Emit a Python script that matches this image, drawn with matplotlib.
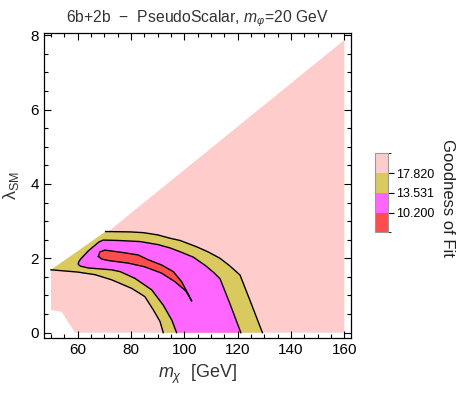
import matplotlib; matplotlib.use('Agg')
import matplotlib.pyplot as plt
from matplotlib.colors import ListedColormap, BoundaryNorm
from matplotlib.cm import ScalarMappable
from matplotlib.ticker import MultipleLocator

plt.rcParams['font.family'] = ['Liberation Sans', 'DejaVu Sans']
plt.rcParams['mathtext.fontset'] = 'custom'
plt.rcParams['mathtext.rm'] = 'Liberation Sans'
plt.rcParams['mathtext.it'] = 'Liberation Sans:italic'

# ---------- data ----------
# region where the fit was evaluated
pink_x = [50, 50, 54, 59, 160, 160, 71.5]
pink_y = [1.69, 0.61, 0.56, 0.0, 0.0, 7.87, 2.72]

# 17.820 contour: upper branch and lower-left branch
yel_top_x = [70.5, 79.6, 84.6, 90.0, 94.6, 98.4, 104.6, 109.0, 113.4, 117.0, 120.9, 125.0, 129.3]
yel_top_y = [2.72, 2.71, 2.69, 2.63, 2.54, 2.48, 2.31, 2.17, 2.00, 1.80, 1.55, 0.80, 0.0]
yel_low_x = [92.1, 90.9, 88.4, 85.2, 80.3, 72.8, 66.5, 60.0, 50.0]
yel_low_y = [0.0, 0.30, 0.61, 0.97, 1.19, 1.42, 1.56, 1.63, 1.69]

# 13.531 contour (open at lambda = 0)
mag_x = [97.1, 95.3, 92.1, 87.8, 81.5, 76.0, 72.7, 64.0, 61.0, 60.2, 60.4, 61.0, 64.0,
         68.0, 69.6, 75.0, 83.4, 90.0, 94.6, 99.0, 103.4, 108.0, 111.0, 113.4, 117.0, 121.2]
mag_y = [0.0, 0.34, 0.74, 1.15, 1.46, 1.64, 1.69, 1.74, 1.79, 1.84, 1.90, 1.97, 2.20,
         2.44, 2.49, 2.48, 2.45, 2.37, 2.28, 2.16, 2.03, 1.80, 1.62, 1.45, 0.80, 0.0]

# 10.200 contour (closed)
red_x = [67.8, 68.3, 70.2, 76.5, 82.7, 86.5, 91.5, 95.9, 99.0, 101.0, 102.8,
         100.6, 96.5, 91.5, 85.2, 79.0, 71.5, 69.0, 67.8]
red_y = [2.05, 2.17, 2.22, 2.16, 2.09, 1.96, 1.82, 1.64, 1.37, 1.10, 0.85,
         1.12, 1.37, 1.60, 1.77, 1.87, 1.94, 1.98, 2.05]

levels = [10.200, 13.531, 17.820]
level_colors = ['#FF4D4D', '#FF66FF', '#D9C95E', '#FFCCCC']

# ---------- figure ----------
fig = plt.figure(figsize=(4.61, 3.98), dpi=100)
ax = fig.add_axes([0.0961, 0.152, 0.6646, 0.7643])

ax.fill(pink_x, pink_y, color=level_colors[3], lw=0)
ax.fill(yel_top_x + yel_low_x, yel_top_y + yel_low_y, color=level_colors[2], lw=0)
ax.fill(mag_x, mag_y, color=level_colors[1], lw=0)
ax.fill(red_x, red_y, color=level_colors[0], lw=0)

for xs, ys in [(yel_top_x, yel_top_y), (yel_low_x, yel_low_y), (mag_x, mag_y), (red_x, red_y)]:
    ax.plot(xs, ys, color='black', lw=1.0, solid_joinstyle='round')

ax.set_xlim(47.5, 162.4)
ax.set_ylim(-0.13, 8.05)
ax.xaxis.set_major_locator(MultipleLocator(20))
ax.xaxis.set_minor_locator(MultipleLocator(5))
ax.yaxis.set_major_locator(MultipleLocator(2))
ax.yaxis.set_minor_locator(MultipleLocator(0.5))
ax.tick_params(which='both', direction='in', top=True, right=True, labelsize=11, pad=4)
ax.tick_params(which='major', length=5, width=0.8)
ax.tick_params(which='minor', length=3, width=0.8)
for s in ax.spines.values():
    s.set_linewidth(0.9)

ax.set_title(r'6b+2b  $-$  PseudoScalar, $m_\varphi$=20 GeV', fontsize=11.3, color='#333333', pad=8)
ax.set_xlabel(r'$m_\chi$  [GeV]', fontsize=13, color='#333333', labelpad=4)
ax.set_ylabel(r'$\mathregular{\lambda_{SM}}$', fontsize=13, color='#333333')
ax.yaxis.set_label_coords(-0.075, 0.5)

# ---------- legend bar ----------
cax = fig.add_axes([0.8134, 0.4163, 0.0275, 0.1985])
sm = ScalarMappable(norm=BoundaryNorm([0, 1, 2, 3, 4], 4), cmap=ListedColormap(level_colors))
cb = fig.colorbar(sm, cax=cax, ticks=[1, 2, 3])
cb.ax.set_yticklabels(['%.3f' % v for v in levels])
cb.ax.tick_params(labelsize=9, length=4, width=0.8, pad=2)
cb.outline.set_edgecolor('#999999')
cb.set_label('Goodness of Fit', rotation=-90, fontsize=12, labelpad=14, color='#222222')
cb.ax.yaxis.set_label_coords(6.3, 0.44)

fig.savefig('out.png', dpi=100)
